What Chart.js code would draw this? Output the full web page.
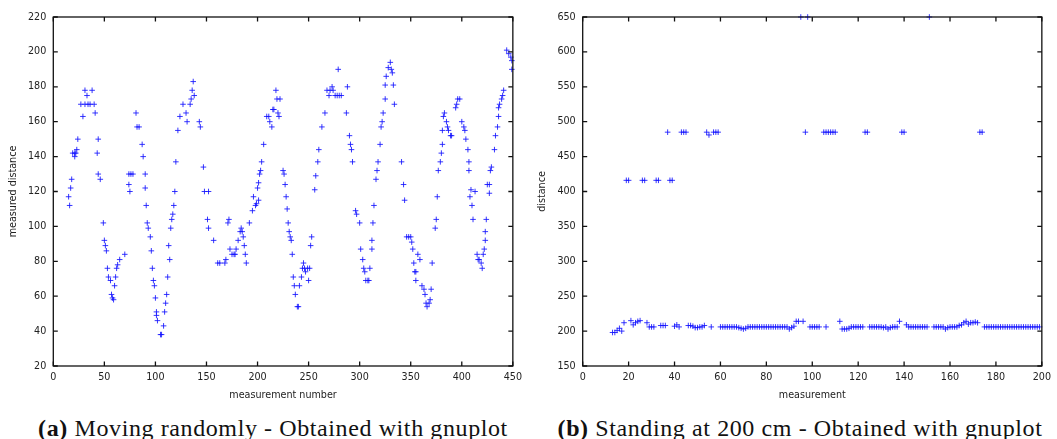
<!DOCTYPE html>
<html>
<head>
<meta charset="utf-8">
<script src="https://cdn.jsdelivr.net/npm/chart.js@4.4.0/dist/chart.umd.min.js"></script>
<style>
  body { margin: 0; background: #fff; }
  #wrap { position: relative; width: 1057px; height: 439px; overflow: hidden; }
  canvas { position: absolute; top: 0; }
  .caption {
    position: absolute;
    top: 416px;
    font-family: "Liberation Serif", serif;
    font-size: 24px;
    letter-spacing: 0.6px;
    line-height: 1;
    white-space: nowrap;
    color: #111;
    transform: translateX(-50%);
  }
</style>
</head>
<body>
<div id="wrap">
  <canvas id="movingChart" width="528" height="405" style="left:0"></canvas>
  <canvas id="standingChart" width="529" height="405" style="left:528px"></canvas>
  <div class="caption" style="left:273px"><b>(a)</b> Moving randomly - Obtained with gnuplot</div>
  <div class="caption" style="left:800px"><b>(b)</b> Standing at 200 cm - Obtained with gnuplot</div>
</div>
<script>
// (a) moving randomly
const movingMeasurement = [
  15, 16, 17, 18, 19, 21, 21, 22, 23, 24, 27, 29, 31, 31, 33, 34, 36, 38, 40, 41,
  43, 44, 44, 46, 49, 50, 51, 52, 53, 54, 56, 57, 58, 59, 60, 61, 62, 63, 65, 70,
  74, 74, 75, 76, 78, 81, 82, 84, 87, 88, 90, 90, 91, 92, 93, 95, 96, 97, 98, 99,
  100, 101, 101, 102, 105, 106, 108, 109, 110, 111, 112, 113, 114, 115, 116, 117, 118, 119, 120, 122,
  124, 127, 130, 131, 134, 135, 136, 137, 138, 143, 144, 147, 148, 151, 152, 152, 157, 161, 163, 168,
  169, 171, 172, 173, 175, 177, 178, 179, 181, 183, 184, 185, 186, 187, 188, 189, 192, 195, 196, 198,
  199, 200, 201, 201, 202, 203, 204, 206, 209, 211, 212, 214, 215, 216, 218, 219, 220, 221, 222, 225,
  226, 227, 228, 229, 230, 231, 232, 233, 234, 235, 236, 237, 239, 240, 241, 243, 244, 245, 246, 247,
  249, 250, 251, 252, 253, 256, 257, 259, 260, 263, 266, 268, 270, 271, 273, 274, 276, 278, 279, 280,
  282, 287, 288, 290, 291, 292, 293, 296, 297, 300, 301, 303, 304, 305, 306, 308, 309, 310, 312, 312,
  313, 314, 316, 317, 318, 320, 321, 322, 323, 325, 325, 326, 328, 330, 331, 332, 333, 334, 341, 343,
  344, 346, 348, 350, 351, 352, 353, 354, 355, 355, 357, 359, 361, 363, 364, 365, 366, 368, 369, 370,
  371, 374, 375, 376, 377, 379, 380, 381, 381, 382, 383, 385, 386, 387, 389, 390, 394, 395, 396, 398,
  400, 402, 403, 404, 406, 407, 407, 409, 408, 410, 411, 413, 415, 416, 417, 419, 420, 421, 422, 423,
  423, 424, 425, 427, 427, 428, 429, 432, 433, 435, 436, 436, 437, 439, 440, 441, 444, 446, 448, 449,
  449
];
const movingDistance = [
  117, 112, 122, 127, 142, 142, 140, 142, 144, 150, 170, 163, 178, 170, 175, 170, 170, 178, 170, 165,
  142, 150, 130, 127, 102, 92, 89, 86, 76, 71, 69, 61, 59, 58, 66, 71, 76, 78, 81, 84,
  124, 130, 120, 130, 130, 165, 157, 157, 147, 140, 130, 122, 112, 102, 99, 94, 86, 76, 69, 66,
  59, 51, 49, 46, 38, 38, 43, 51, 56, 61, 71, 89, 81, 99, 104, 107, 112, 120, 137, 155,
  163, 170, 165, 160, 170, 173, 178, 183, 175, 160, 157, 134, 120, 104, 99, 120, 92, 79, 79, 79,
  81, 102, 104, 87, 84, 84, 84, 87, 92, 97, 99, 97, 94, 89, 84, 79, 102, 109, 117, 112,
  113, 122, 115, 125, 130, 132, 137, 147, 163, 163, 160, 157, 167, 167, 178, 173, 165, 163, 173, 132,
  130, 124, 117, 110, 102, 97, 94, 92, 84, 71, 66, 61, 54, 54, 66, 71, 76, 79, 76, 74,
  76, 69, 76, 89, 94, 121, 129, 137, 144, 157, 165, 178, 175, 178, 180, 178, 175, 175, 190, 175,
  175, 165, 180, 152, 147, 144, 137, 109, 107, 102, 87, 81, 76, 74, 69, 69, 69, 76, 87, 92,
  102, 112, 127, 132, 137, 147, 157, 160, 165, 173, 181, 186, 191, 194, 190, 188, 181, 170, 137, 124,
  115, 94, 94, 94, 91, 87, 79, 74, 74, 69, 84, 81, 66, 64, 61, 56, 54, 56, 58, 64,
  79, 99, 104, 117, 132, 137, 142, 147, 155, 163, 165, 160, 157, 155, 152, 152, 168, 170, 173, 173,
  160, 157, 155, 150, 144, 137, 132, 121, 117, 112, 104, 120, 84, 81, 81, 79, 76, 84, 87, 92,
  97, 104, 124, 124, 119, 132, 134, 144, 152, 157, 163, 168, 170, 173, 175, 178, 201, 199, 197, 195,
  190
];
const movingXTicks = [0, 50, 100, 150, 200, 250, 300, 350, 400, 450];
const movingYTicks = [20, 40, 60, 80, 100, 120, 140, 160, 180, 200, 220];

// (b) standing at 200 cm
const standingMeasurement = [
  13, 14, 15, 16, 17, 18, 19, 20, 21, 22, 23, 24, 25, 26, 27, 28, 29, 30, 31, 32,
  33, 34, 35, 36, 37, 38, 39, 40, 41, 42, 43, 44, 45, 46, 47, 48, 49, 50, 51, 52,
  53, 54, 55, 56, 57, 58, 59, 60, 61, 62, 63, 64, 65, 66, 67, 68, 69, 70, 71, 72,
  73, 74, 75, 76, 77, 78, 79, 80, 81, 82, 83, 84, 85, 86, 87, 88, 89, 90, 91, 92,
  93, 94, 95, 96, 97, 98, 99, 100, 101, 102, 103, 106, 105, 106, 107, 108, 109, 110, 112, 113,
  114, 115, 116, 117, 118, 119, 120, 121, 122, 123, 124, 125, 126, 127, 128, 129, 130, 131, 132, 133,
  134, 135, 136, 137, 138, 139, 140, 141, 142, 143, 144, 145, 146, 147, 148, 149, 150, 151, 153, 154,
  155, 156, 157, 158, 159, 160, 161, 162, 163, 164, 165, 166, 167, 168, 169, 170, 171, 172, 173, 174,
  175, 176, 177, 178, 179, 180, 181, 182, 183, 184, 185, 186, 187, 188, 189, 190, 191, 192, 193, 194,
  195, 196, 197, 198, 199
];
const standingDistance = [
  198, 198, 201, 204, 200, 212, 416, 416, 215, 209, 212, 214, 215, 416, 416, 212, 206, 206, 206, 416,
  416, 208, 208, 208, 485, 416, 416, 207, 209, 206, 485, 485, 485, 208, 208, 207, 205, 205, 206, 206,
  208, 485, 481, 206, 485, 485, 485, 206, 206, 206, 206, 206, 206, 206, 206, 205, 204, 203, 204, 206,
  206, 206, 206, 206, 206, 206, 206, 206, 206, 206, 206, 206, 206, 206, 206, 206, 206, 203, 205, 207,
  214, 214, 650, 214, 485, 650, 206, 206, 206, 206, 206, 206, 485, 485, 485, 485, 485, 485, 214, 203,
  203, 203, 204, 206, 206, 206, 206, 206, 206, 485, 485, 206, 206, 206, 206, 206, 206, 205, 206, 203,
  205, 206, 206, 206, 214, 485, 485, 209, 206, 206, 206, 206, 206, 206, 206, 206, 206, 650, 206, 206,
  206, 206, 206, 203, 205, 206, 206, 206, 206, 208, 209, 212, 214, 210, 212, 212, 213, 212, 485, 485,
  206, 206, 206, 206, 206, 206, 206, 206, 206, 206, 206, 206, 206, 206, 206, 206, 206, 206, 206, 206,
  206, 206, 206, 206, 206
];
const standingXTicks = [0, 20, 40, 60, 80, 100, 120, 140, 160, 180, 200];
const standingYTicks = [150, 200, 250, 300, 350, 400, 450, 500, 550, 600, 650];

const TEXT_COLOR = "#222";
const POINT_COLOR = "rgba(20, 20, 255, 0.85)";
const FONT = { family: "DejaVu Sans", size: 9.6 };

// gnuplot style box with inward ticks on all four sides
const gnuplotFrame = {
  id: "gnuplotFrame",
  afterDatasetsDraw(chart) {
    const { ctx, chartArea: a, scales } = chart;
    const tick = 4.5;
    ctx.save();
    ctx.strokeStyle = "#111";
    ctx.lineWidth = 1.3;
    ctx.beginPath();
    scales.x.ticks.forEach(t => {
      const px = scales.x.getPixelForValue(t.value);
      ctx.moveTo(px, a.bottom);
      ctx.lineTo(px, a.bottom - tick);
      ctx.moveTo(px, a.top);
      ctx.lineTo(px, a.top + tick);
    });
    scales.y.ticks.forEach(t => {
      const py = scales.y.getPixelForValue(t.value);
      ctx.moveTo(a.left, py);
      ctx.lineTo(a.left + tick, py);
      ctx.moveTo(a.right, py);
      ctx.lineTo(a.right - tick, py);
    });
    ctx.stroke();
    ctx.strokeRect(a.left, a.top, a.right - a.left, a.bottom - a.top);
    ctx.restore();
  },
};

function makeChart(id, xs, ys, opts) {
  const points = xs.map((x, i) => ({ x: x, y: ys[i] }));
  return new Chart(document.getElementById(id), {
    type: "scatter",
    data: {
      datasets: [
        {
          data: points,
          pointStyle: "cross",
          pointRadius: 2.8,
          pointBorderWidth: 1,
          borderColor: POINT_COLOR,
          backgroundColor: POINT_COLOR,
          clip: false,
        },
      ],
    },
    options: {
      responsive: false,
      animation: false,
      devicePixelRatio: 1,
      layout: { padding: { left: 0, top: 17, right: opts.padRight, bottom: 0 } },
      plugins: { legend: { display: false }, tooltip: { enabled: false } },
      scales: {
        x: {
          type: "linear",
          min: opts.xTicks[0],
          max: opts.xTicks[opts.xTicks.length - 1],
          afterBuildTicks: s => { s.ticks = opts.xTicks.map(v => ({ value: v })); },
          afterFit: s => { s.height = 39; },
          grid: { display: false, drawTicks: false },
          border: { display: false },
          ticks: { color: TEXT_COLOR, font: FONT, padding: 6, maxRotation: 0, autoSkip: false },
          title: {
            display: true,
            text: opts.xTitle,
            color: TEXT_COLOR,
            font: FONT,
            padding: { top: 0, bottom: 4 },
          },
        },
        y: {
          type: "linear",
          min: opts.yTicks[0],
          max: opts.yTicks[opts.yTicks.length - 1],
          afterBuildTicks: s => { s.ticks = opts.yTicks.map(v => ({ value: v })); },
          afterFit: s => { s.width = opts.yWidth; },
          grid: { display: false, drawTicks: false },
          border: { display: false },
          ticks: { color: TEXT_COLOR, font: FONT, padding: 7, autoSkip: false },
          title: {
            display: true,
            text: opts.yTitle,
            color: TEXT_COLOR,
            font: FONT,
            padding: { top: opts.yTitlePad, bottom: 0 },
          },
        },
      },
    },
    plugins: [gnuplotFrame],
  });
}

makeChart("movingChart", movingMeasurement, movingDistance, {
  xTicks: movingXTicks,
  yTicks: movingYTicks,
  xTitle: "measurement number",
  yTitle: "measured distance",
  yWidth: 53.3,
  yTitlePad: 8,
  padRight: 11.5,
});

makeChart("standingChart", standingMeasurement, standingDistance, {
  xTicks: standingXTicks,
  yTicks: standingYTicks,
  xTitle: "measurement",
  yTitle: "distance",
  yWidth: 54.7,
  yTitlePad: 9,
  padRight: 12,
});
</script>
</body>
</html>
